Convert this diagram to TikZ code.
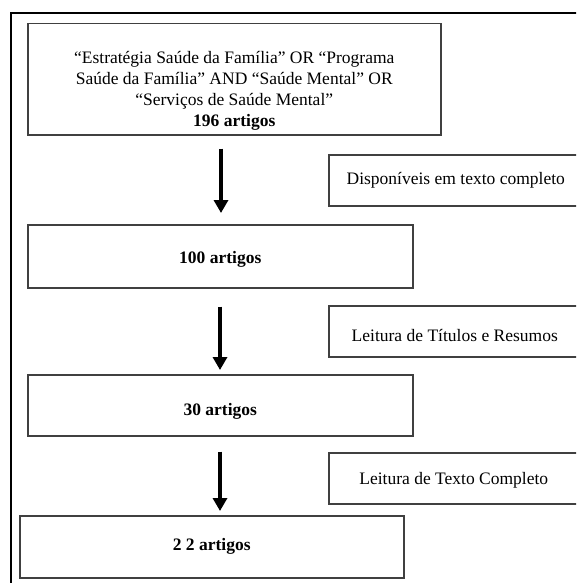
\documentclass[tikz,border=0pt]{standalone}
\usepackage{fontspec}
\setmainfont{Liberation Serif}
\usetikzlibrary{arrows.meta}
\begin{document}
\begin{tikzpicture}[x=1pt,y=-1pt,
  mainbox/.style={draw=black!75,line width=1.5pt,inner sep=0pt,anchor=north west,align=center,
     font=\fontsize{17.5}{21}\selectfont},
  sidebox/.style={draw=black!75,line width=1.5pt,inner sep=0pt,anchor=north west,align=center,
     font=\fontsize{17.5}{21}\selectfont},
  arr/.style={line width=4.5pt,-{Triangle[width=14pt,length=13pt]}},
  frame/.style={draw=black,line width=1.2pt}]
\useasboundingbox (0,0) rectangle (576,583);
\clip (0,0) rectangle (576,583);
\fill[white] (0,0) rectangle (576,583);
\draw[frame] (11,600) -- (11,13) -- (600,13);
\node[mainbox,minimum width=413pt,minimum height=111pt] (b1) at (27,23)
  {\rule{0pt}{36pt}“Estratégia Saúde da Família” OR “Programa\\ Saúde da Família” AND “Saúde Mental” OR\\ “Serviços de Saúde Mental”\\ \textbf{196 artigos}};
\node[mainbox,minimum width=385pt,minimum height=63pt,text height=17pt,text depth=3pt] (b2) at (27,224) {\textbf{100 artigos}};
\node[mainbox,minimum width=385pt,minimum height=61pt,text height=22pt,text depth=2pt] (b3) at (27,374) {\textbf{30 artigos}};
\node[mainbox,minimum width=384pt,minimum height=62pt] (b4) at (19,515) {\textbf{2 2 artigos}};
\node[sidebox,minimum width=254pt,minimum height=51pt] (s1) at (328,154) {Disponíveis em texto completo};
\node[sidebox,minimum width=252pt,minimum height=51pt,text height=22pt,text depth=2pt] (s2) at (328,305) {Leitura de Títulos e Resumos};
\node[sidebox,minimum width=250pt,minimum height=51pt,text height=15pt,text depth=3pt] (s3) at (328,452) {Leitura de Texto Completo};
\coordinate (ax) at (221,0);
\coordinate (bx) at (220,0);
\draw[arr] ([yshift=-13pt]b1.south -| ax) -- ([yshift=11pt]b2.north -| ax);
\draw[arr] ([yshift=-18pt]b2.south -| bx) -- ([yshift=4pt]b3.north -| bx);
\draw[arr] ([yshift=-15pt]b3.south -| bx) -- ([yshift=4pt]b4.north -| bx);
\end{tikzpicture}
\end{document}
